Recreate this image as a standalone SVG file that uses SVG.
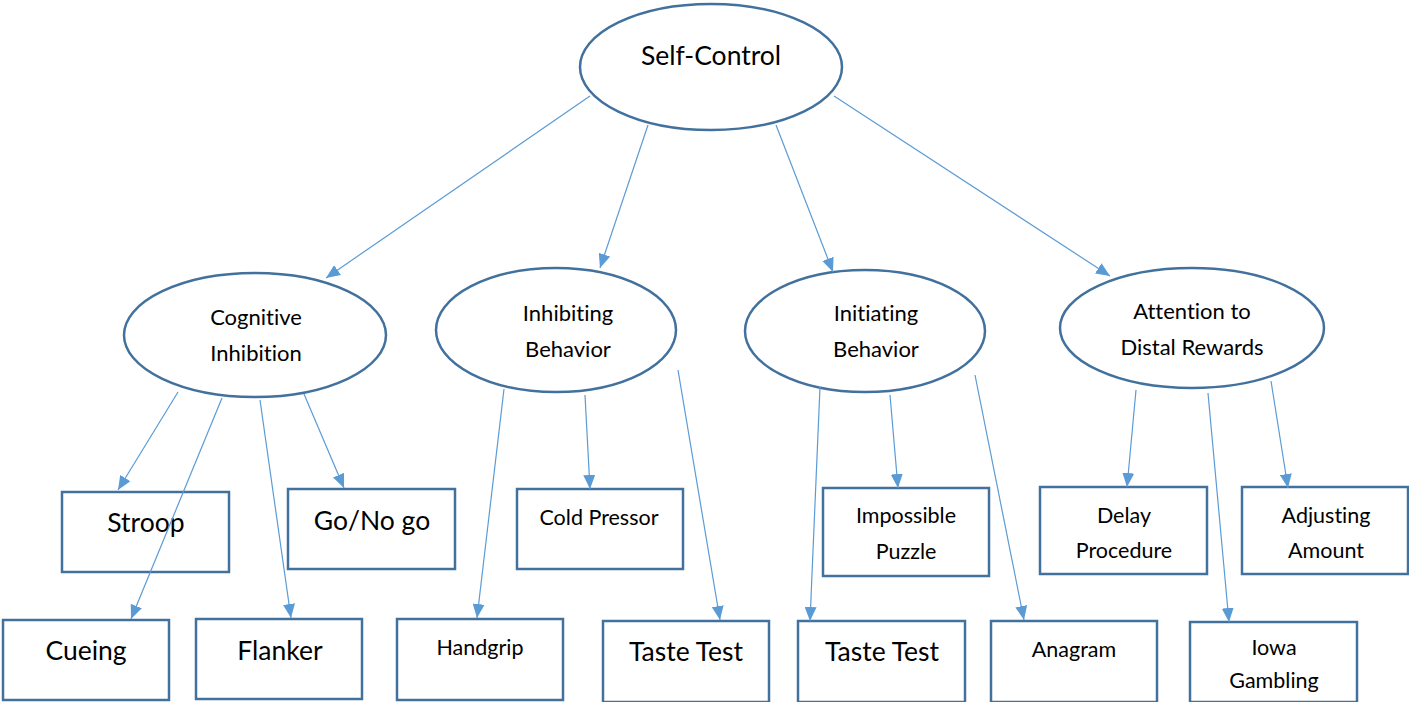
<svg xmlns="http://www.w3.org/2000/svg" width="1409" height="702" viewBox="0 0 1409 702">
<defs>
<marker id="ah" markerWidth="14" markerHeight="12" refX="14" refY="6" orient="auto" markerUnits="userSpaceOnUse">
<path d="M0,0 L14,6 L0,12 Z" fill="#5B9BD5"/>
</marker>
<style>
.n{fill:#fff;stroke:#41719C;stroke-width:2.5}
.c line{stroke:#5B9BD5;stroke-width:1.2;marker-end:url(#ah)}
text{font-family:Lato,"Open Sans","Noto Sans",sans-serif;fill:#000;text-anchor:middle;font-variant-ligatures:none}
.t26{font-size:26.5px}.t19{font-size:22px}.t24{font-size:26.5px}.t18{font-size:21.5px}
</style>
</defs>
<rect width="1409" height="702" fill="#fff"/>
<g id="nodes-ellipses">
<g id="self-control"><ellipse class="n" cx="711" cy="67" rx="131" ry="63"/><text class="t26" x="711" y="65">Self-Control</text></g>
<g id="cognitive-inhibition"><ellipse class="n" cx="255" cy="335" rx="131" ry="62"/><text class="t19" x="256" y="325">Cognitive</text><text class="t19" x="256" y="361">Inhibition</text></g>
<g id="inhibiting-behavior"><ellipse class="n" cx="556" cy="330" rx="120" ry="62"/><text class="t19" x="568" y="321">Inhibiting</text><text class="t19" x="568" y="357">Behavior</text></g>
<g id="initiating-behavior"><ellipse class="n" cx="865" cy="331" rx="120" ry="61"/><text class="t19" x="876" y="321">Initiating</text><text class="t19" x="876" y="357">Behavior</text></g>
<g id="attention"><ellipse class="n" cx="1192" cy="328" rx="132" ry="60"/><text class="t19" x="1192" y="319">Attention to</text><text class="t19" x="1192" y="355">Distal Rewards</text></g>
</g>
<g id="stroop"><rect class="n" x="62" y="492" width="167" height="80"/><text class="t24" x="146" y="532">Stroop</text></g>
<g id="gonogo"><rect class="n" x="288" y="489" width="167" height="80"/><text class="t24" x="372" y="530">Go/No go</text></g>
<g id="cueing"><rect class="n" x="3" y="620" width="166" height="80"/><text class="t24" x="86" y="660">Cueing</text></g>
<g id="flanker"><rect class="n" x="196" y="619" width="166" height="80"/><text class="t24" x="280" y="660">Flanker</text></g>
<g id="handgrip"><rect class="n" x="397" y="619" width="166" height="81"/><text class="t18" x="480" y="655">Handgrip</text></g>
<g id="cold-pressor"><rect class="n" x="517" y="489" width="166" height="80"/><text class="t18" x="599" y="525">Cold Pressor</text></g>
<g id="taste-test-1"><rect class="n" x="603" y="621" width="166" height="81"/><text class="t24" x="686" y="661">Taste Test</text></g>
<g id="impossible-puzzle"><rect class="n" x="823" y="488" width="166" height="88"/><text class="t18" x="906" y="523">Impossible</text><text class="t18" x="906" y="559">Puzzle</text></g>
<g id="taste-test-2"><rect class="n" x="798" y="621" width="167" height="81"/><text class="t24" x="882" y="661">Taste Test</text></g>
<g id="anagram"><rect class="n" x="991" y="621" width="166" height="81"/><text class="t18" x="1074" y="657">Anagram</text></g>
<g id="delay"><rect class="n" x="1040" y="487" width="167" height="87"/><text class="t18" x="1124" y="523">Delay</text><text class="t18" x="1124" y="558">Procedure</text></g>
<g id="adjusting"><rect class="n" x="1242" y="487" width="166" height="87"/><text class="t18" x="1326" y="523">Adjusting</text><text class="t18" x="1326" y="558">Amount</text></g>
<g id="iowa"><rect class="n" x="1190" y="622" width="167" height="80"/><text class="t18" x="1274" y="655">Iowa</text><text class="t18" x="1274" y="688">Gambling</text></g>
<g id="connectors" class="c">
<line x1="590" y1="96" x2="326" y2="278"/>
<line x1="648" y1="125" x2="600" y2="268"/>
<line x1="776" y1="125" x2="833" y2="272"/>
<line x1="834" y1="96" x2="1110" y2="276"/>
<line x1="178" y1="392" x2="118" y2="490"/>
<line x1="222" y1="398" x2="131" y2="619"/>
<line x1="260" y1="400" x2="291" y2="618"/>
<line x1="304" y1="394" x2="344" y2="488"/>
<line x1="504" y1="389" x2="477" y2="618"/>
<line x1="585" y1="395" x2="590" y2="489"/>
<line x1="678" y1="370" x2="720" y2="620"/>
<line x1="820" y1="387" x2="810" y2="621"/>
<line x1="890" y1="395" x2="898" y2="488"/>
<line x1="975" y1="375" x2="1024" y2="620"/>
<line x1="1136" y1="390" x2="1127" y2="487"/>
<line x1="1208" y1="393" x2="1229" y2="622"/>
<line x1="1271" y1="381" x2="1288" y2="488"/>
</g>
</svg>
